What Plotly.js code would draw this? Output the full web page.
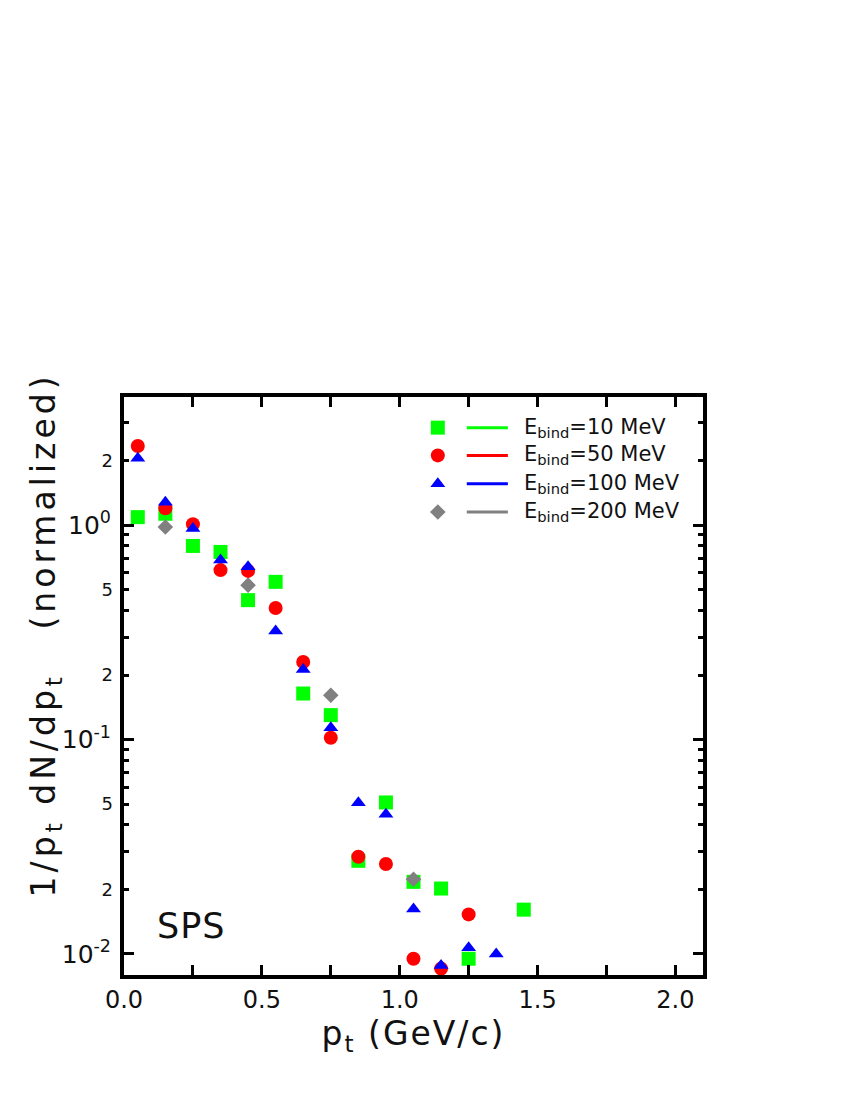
<!DOCTYPE html>
<html>
<head>
<meta charset="utf-8">
<script src="https://cdn.plot.ly/plotly-3.0.1.min.js"></script>
<style>html,body{margin:0;padding:0;background:#fff;}#chart{width:850px;height:1100px;}</style>
</head>
<body>
<div id="chart"></div>
<script>
// ---- data ----
const pt_10MeV  = [0.05, 0.15, 0.25, 0.35, 0.45, 0.55, 0.65, 0.75, 0.85, 0.95, 1.05, 1.15, 1.25, 1.45];
const y_10MeV   = [1.09, 1.13, 0.80, 0.75, 0.447, 0.544, 0.164, 0.130, 0.0272, 0.0509, 0.0217, 0.0202, 0.0095, 0.0161];

const pt_50MeV  = [0.05, 0.15, 0.25, 0.35, 0.45, 0.55, 0.65, 0.75, 0.85, 0.95, 1.05, 1.15, 1.25];
const y_50MeV   = [2.34, 1.20, 1.01, 0.617, 0.612, 0.411, 0.230, 0.102, 0.0284, 0.0263, 0.0095, 0.00855, 0.0153];

const pt_100MeV = [0.05, 0.15, 0.25, 0.35, 0.45, 0.55, 0.65, 0.75, 0.85, 0.95, 1.05, 1.15, 1.25, 1.35];
const y_100MeV  = [2.05, 1.28, 0.965, 0.687, 0.64, 0.321, 0.212, 0.1135, 0.0507, 0.0448, 0.0162, 0.00883, 0.0107, 0.0100];

const pt_200MeV = [0.15, 0.45, 0.75, 1.05];
const y_200MeV  = [0.98, 0.525, 0.161, 0.0223];

const seriesNames = ['E<sub>bind</sub>=10 MeV', 'E<sub>bind</sub>=50 MeV', 'E<sub>bind</sub>=100 MeV', 'E<sub>bind</sub>=200 MeV'];

// tick labels
const yMajorVals = [0.01, 0.1, 1];
const yMajorText = ['10<sup>-2</sup>', '10<sup>-1</sup>', '10<sup>0</sup>'];
const yMinorLabelVals = [0.02, 0.05, 0.2, 0.5, 2];
const yMinorLabelText = ['2', '5', '2', '5', '2'];
const yMinorTickVals = [0.02,0.03,0.04,0.05,0.06,0.07,0.08,0.09,0.2,0.3,0.4,0.5,0.6,0.7,0.8,0.9,2,3];

const xTitle = 'p<sub>t</sub> (GeV/c)';
const yTitle = '1/p<sub>t</sub> dN/dp<sub>t</sub>   (normalized)';

// ---- styles ----
const FONT = '"DejaVu Sans", Roboto, sans-serif';
const TXT = '#111';
const colors = ['#00ff00', '#ff0000', '#0000ff', '#808080'];
const symbols = ['square', 'circle', 'triangle-up', 'diamond'];
const sizes = [14, 14, 13, 12];
const spaced = (s, px) => '<span style="letter-spacing:' + px + 'px">' + s + '</span>';
const f = (size) => ({family: FONT, size: size, color: TXT});

const dataSets = [
  {x: pt_10MeV, y: y_10MeV, i: 0},
  {x: pt_200MeV, y: y_200MeV, i: 3},
  {x: pt_50MeV, y: y_50MeV, i: 1},
  {x: pt_100MeV, y: y_100MeV, i: 2}
];

const traces = dataSets.map(d => ({
  type: 'scatter', mode: 'markers', x: d.x, y: d.y, name: seriesNames[d.i],
  marker: {symbol: symbols[d.i], color: colors[d.i], size: sizes[d.i], line: {width: 0}},
  showlegend: false, hoverinfo: 'x+y'
}));

// legend drawn on an overlay unit axis
const legX = 0.542, legLine = [0.592, 0.663], legText = 0.687;
const legY = [0.947, 0.899, 0.850, 0.801];
const annotations = [];
for (let k = 0; k < 4; k++) {
  traces.push({
    type: 'scatter', mode: 'markers', x: [legX], y: [legY[k]], xaxis: 'x2', yaxis: 'y2',
    marker: {symbol: symbols[k], color: colors[k], size: sizes[k]}, showlegend: false, hoverinfo: 'skip'
  });
  traces.push({
    type: 'scatter', mode: 'lines', x: legLine, y: [legY[k], legY[k]], xaxis: 'x2', yaxis: 'y2',
    line: {color: colors[k], width: 3}, showlegend: false, hoverinfo: 'skip'
  });
  annotations.push({
    xref: 'paper', yref: 'paper', x: legText, y: legY[k], xanchor: 'left', yanchor: 'middle',
    text: seriesNames[k], showarrow: false, font: f(21)
  });
}
annotations.push({
  xref: 'paper', yref: 'paper', x: 0.117, y: 0.085, xanchor: 'center', yanchor: 'middle',
  text: spaced('SPS', 1), showarrow: false, font: f(35)
});
// y-axis title (placed as the reference does, above the plot centre)
annotations.push({
  xref: 'paper', yref: 'paper', x: -0.136, y: 0.588, xanchor: 'center', yanchor: 'middle',
  textangle: -90, text: spaced(yTitle, 4), showarrow: false, font: f(33)
});

const yRange = [Math.log10(0.00798), Math.log10(3.96)];

const layout = {
  width: 850, height: 1100,
  margin: {l: 124, r: 147, t: 397, b: 125},
  paper_bgcolor: '#fff', plot_bgcolor: '#fff',
  font: f(20),
  showlegend: false,
  xaxis: {
    range: [0, 2.1], tickmode: 'linear', tick0: 0, dtick: 0.5, tickformat: '.1f',
    ticks: 'inside', ticklen: 10, tickwidth: 3, tickcolor: '#000',
    minor: {dtick: 0.25, tick0: 0, ticks: 'inside', ticklen: 5, tickwidth: 3, tickcolor: '#000'},
    showline: true, linewidth: 4, linecolor: '#000', mirror: 'allticks',
    showgrid: false, zeroline: false,
    tickfont: f(24),
    title: {text: spaced(xTitle, 2), font: f(33), standoff: 6}
  },
  yaxis: {
    type: 'log', range: yRange,
    tickmode: 'array', tickvals: yMajorVals, ticktext: yMajorText,
    ticks: 'inside', ticklen: 10, tickwidth: 3, tickcolor: '#000',
    minor: {tickmode: 'array', tickvals: yMinorTickVals, ticks: 'inside', ticklen: 5, tickwidth: 3, tickcolor: '#000'},
    showline: true, linewidth: 4, linecolor: '#000', mirror: 'allticks',
    showgrid: false, zeroline: false,
    tickfont: f(25),
    ticklabelstandoff: 4
  },
  yaxis3: {
    type: 'log', overlaying: 'y', anchor: 'x', side: 'left', range: yRange,
    tickmode: 'array', tickvals: yMinorLabelVals, ticktext: yMinorLabelText,
    ticks: '', showline: false, showgrid: false, zeroline: false,
    tickfont: f(18), ticklabelstandoff: 10
  },
  xaxis2: {overlaying: 'x', anchor: 'y2', range: [0, 1], visible: false, fixedrange: true},
  yaxis2: {overlaying: 'y', anchor: 'x2', range: [0, 1], visible: false, fixedrange: true},
  annotations: annotations
};

// empty trace so the label-only axis is drawn
traces.push({type: 'scatter', mode: 'markers', x: [], y: [], yaxis: 'y3', showlegend: false, hoverinfo: 'skip'});

Plotly.newPlot('chart', traces, layout, {displayModeBar: false, staticPlot: true});
</script>
</body>
</html>
